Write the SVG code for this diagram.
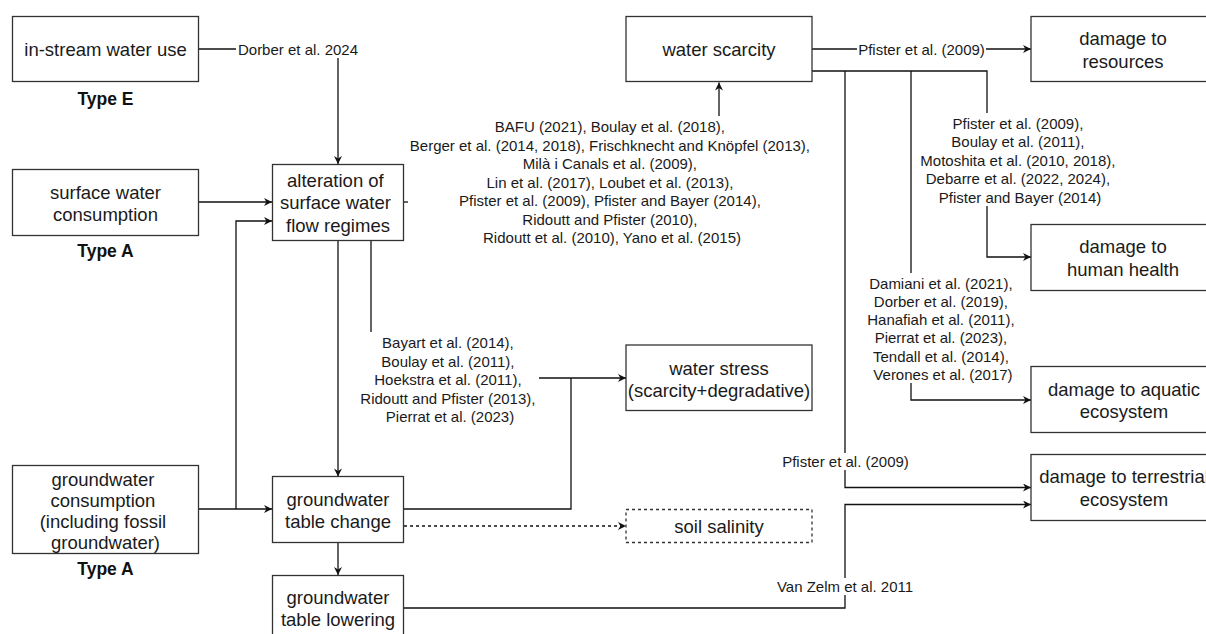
<svg xmlns="http://www.w3.org/2000/svg" width="1206" height="634" viewBox="0 0 1206 634">
<style>
  .box { fill: #fff; stroke: #333; stroke-width: 1.3; }
  .dbox { fill: #fff; stroke: #333; stroke-width: 1.3; stroke-dasharray: 3 3; }
  .t { font-family: "Liberation Sans", Arial, sans-serif; font-size: 18.5px; fill: #1a1a1a; text-anchor: middle; dominant-baseline: central; }
  .lbl { font-family: "Liberation Sans", Arial, sans-serif; font-size: 15px; fill: #1a1a1a; text-anchor: middle; dominant-baseline: central; }
  .type { font-family: "Liberation Sans", Arial, sans-serif; font-size: 17.5px; font-weight: bold; fill: #111; text-anchor: middle; dominant-baseline: central; }
  .c { fill: none; stroke: #111; stroke-width: 1.3; }
  .arr { marker-end: url(#ah); }
  .dash { stroke-dasharray: 3 3; }
  .bg { fill: #fff; stroke: none; }
</style>
<defs>
  <marker id="ah" viewBox="0 0 10 10" markerWidth="9" markerHeight="8" refX="10" refY="5" orient="auto" markerUnits="userSpaceOnUse">
    <path d="M0,0 L10,5 L0,10 L3,5 z" fill="#111"/>
  </marker>
</defs>
<rect width="1206" height="634" fill="#fff"/>

<g id="connectors">
  <path class="c arr" d="M199,49 H338 V164"/>
  <path class="c arr" d="M199,202 H272"/>
  <path class="c arr" d="M199,509 H272"/>
  <path class="c arr" d="M236,509 V221 H272"/>
  <path class="c arr" d="M338,241 V476.5"/>
  <path class="c" d="M404,202 H420"/>
  <path class="c arr" d="M719,116 V82.5"/>
  <path class="c" d="M371,241 V340"/>
  <path class="c arr" d="M539,378 H626"/>
  <path class="c" d="M404,509 H571 V378"/>
  <path class="c arr dash" d="M404,526 H626"/>
  <path class="c arr" d="M338,542.5 V575"/>
  <path class="c arr" d="M812,49 H1031"/>
  <path class="c arr" d="M812,71 H987 V257 H1031"/>
  <path class="c arr" d="M911,71 V400 H1031"/>
  <path class="c arr" d="M845,71 V487.5 H1031"/>
  <path class="c arr" d="M404,608 H845 V504.5 H1031"/>

  <g id="label-dorber">
    <rect class="bg" x="236" y="41" width="124" height="17"/>
    <text class="lbl" x="298" y="49">Dorber et al. 2024</text>
  </g>
  <g id="label-scarcity-refs">
    <rect class="bg" x="408" y="116" width="410" height="130"/>
    <text class="lbl">
      <tspan x="612" y="126">BAFU (2021), Boulay et al. (2018),</tspan>
      <tspan x="612" y="144.5">Berger et al. (2014, 2018), Frischknecht and Knöpfel (2013),</tspan>
      <tspan x="612" y="163">Milà i Canals et al. (2009),</tspan>
      <tspan x="612" y="181.5">Lin et al. (2017), Loubet et al. (2013),</tspan>
      <tspan x="612" y="200">Pfister et al. (2009), Pfister and Bayer (2014),</tspan>
      <tspan x="612" y="218.5">Ridoutt and Pfister (2010),</tspan>
      <tspan x="612" y="237">Ridoutt et al. (2010), Yano et al. (2015)</tspan>
    </text>
  </g>
  <g id="label-stress-refs">
    <rect class="bg" x="361" y="332" width="178" height="93"/>
    <text class="lbl">
      <tspan x="450" y="342">Bayart et al. (2014),</tspan>
      <tspan x="450" y="360.5">Boulay et al. (2011),</tspan>
      <tspan x="450" y="379">Hoekstra et al. (2011),</tspan>
      <tspan x="450" y="397.5">Ridoutt and Pfister (2013),</tspan>
      <tspan x="450" y="416">Pierrat et al. (2023)</tspan>
    </text>
  </g>
  <g id="label-resources">
    <rect class="bg" x="857" y="41" width="129" height="17"/>
    <text class="lbl" x="921.5" y="49">Pfister et al. (2009)</text>
  </g>
  <g id="label-health-refs">
    <rect class="bg" x="920" y="113" width="200" height="93"/>
    <text class="lbl">
      <tspan x="1020" y="122.5">Pfister et al. (2009),</tspan>
      <tspan x="1020" y="141">Boulay et al. (2011),</tspan>
      <tspan x="1020" y="159.5">Motoshita et al. (2010, 2018),</tspan>
      <tspan x="1020" y="178">Debarre et al. (2022, 2024),</tspan>
      <tspan x="1020" y="196.5">Pfister and Bayer (2014)</tspan>
    </text>
  </g>
  <g id="label-aquatic-refs">
    <rect class="bg" x="867" y="273" width="152" height="110"/>
    <text class="lbl">
      <tspan x="943" y="282.5">Damiani et al. (2021),</tspan>
      <tspan x="943" y="300.8">Dorber et al. (2019),</tspan>
      <tspan x="943" y="319.1">Hanafiah et al. (2011),</tspan>
      <tspan x="943" y="337.4">Pierrat et al. (2023),</tspan>
      <tspan x="943" y="355.7">Tendall et al. (2014),</tspan>
      <tspan x="943" y="374">Verones et al. (2017)</tspan>
    </text>
  </g>
  <g id="label-terrestrial">
    <rect class="bg" x="780" y="453" width="131" height="17"/>
    <text class="lbl" x="845.5" y="461.5">Pfister et al. (2009)</text>
  </g>
  <g id="label-vanzelm">
    <rect class="bg" x="775" y="578" width="140" height="17"/>
    <text class="lbl" x="845" y="586">Van Zelm et al. 2011</text>
  </g>
</g>

<g id="node-instream">
  <rect class="box" x="12.5" y="16.5" width="186" height="65"/>
  <text class="t" x="105.5" y="49">in-stream water use</text>
  <text class="type" x="105.5" y="98.5">Type E</text>
</g>
<g id="node-surface">
  <rect class="box" x="12.5" y="169.5" width="186" height="66"/>
  <text class="t"><tspan x="105.5" y="191.5">surface water</tspan><tspan x="105.5" y="213.5">consumption</tspan></text>
  <text class="type" x="105.5" y="250.5">Type A</text>
</g>
<g id="node-groundwater">
  <rect class="box" x="12.5" y="465.5" width="186" height="88"/>
  <text class="t">
    <tspan x="105.5" y="478.5">groundwater</tspan>
    <tspan x="105.5" y="499.5">consumption</tspan>
    <tspan x="105.5" y="520.5">(including fossil</tspan>
    <tspan x="105.5" y="541.5">groundwater)</tspan>
  </text>
  <text class="type" x="105.5" y="568.5">Type A</text>
</g>
<g id="node-alteration">
  <rect class="box" x="272.5" y="164.5" width="131" height="76"/>
  <text class="t">
    <tspan x="338" y="180">alteration of</tspan>
    <tspan x="338" y="202">surface water</tspan>
    <tspan x="338" y="225">flow regimes</tspan>
  </text>
</g>
<g id="node-gwchange">
  <rect class="box" x="272.5" y="476.5" width="131" height="66"/>
  <text class="t"><tspan x="338" y="498.5">groundwater</tspan><tspan x="338" y="520.5">table change</tspan></text>
</g>
<g id="node-gwlowering">
  <rect class="box" x="272.5" y="575.5" width="131" height="66"/>
  <text class="t"><tspan x="338" y="597">groundwater</tspan><tspan x="338" y="619">table lowering</tspan></text>
</g>
<g id="node-scarcity">
  <rect class="box" x="626" y="16.5" width="186" height="65"/>
  <text class="t" x="719" y="49">water scarcity</text>
</g>
<g id="node-stress">
  <rect class="box" x="626" y="345" width="186" height="65.5"/>
  <text class="t"><tspan x="719" y="367.5">water stress</tspan><tspan x="719" y="389.5">(scarcity+degradative)</tspan></text>
</g>
<g id="node-salinity">
  <rect class="dbox" x="626" y="509.5" width="186" height="33"/>
  <text class="t" x="719" y="526">soil salinity</text>
</g>
<g id="node-resources">
  <rect class="box" x="1031" y="16.5" width="186" height="65"/>
  <text class="t"><tspan x="1123" y="37.5">damage to</tspan><tspan x="1123" y="60.5">resources</tspan></text>
</g>
<g id="node-health">
  <rect class="box" x="1031" y="224.5" width="186" height="66"/>
  <text class="t"><tspan x="1123" y="245.5">damage to</tspan><tspan x="1123" y="268.5">human health</tspan></text>
</g>
<g id="node-aquatic">
  <rect class="box" x="1031" y="366.5" width="186" height="66"/>
  <text class="t"><tspan x="1124" y="388.5">damage to aquatic</tspan><tspan x="1124" y="411">ecosystem</tspan></text>
</g>
<g id="node-terrestrial">
  <rect class="box" x="1031" y="454.5" width="186" height="66"/>
  <text class="t"><tspan x="1124" y="476">damage to terrestrial</tspan><tspan x="1124" y="499">ecosystem</tspan></text>
</g>
</svg>
